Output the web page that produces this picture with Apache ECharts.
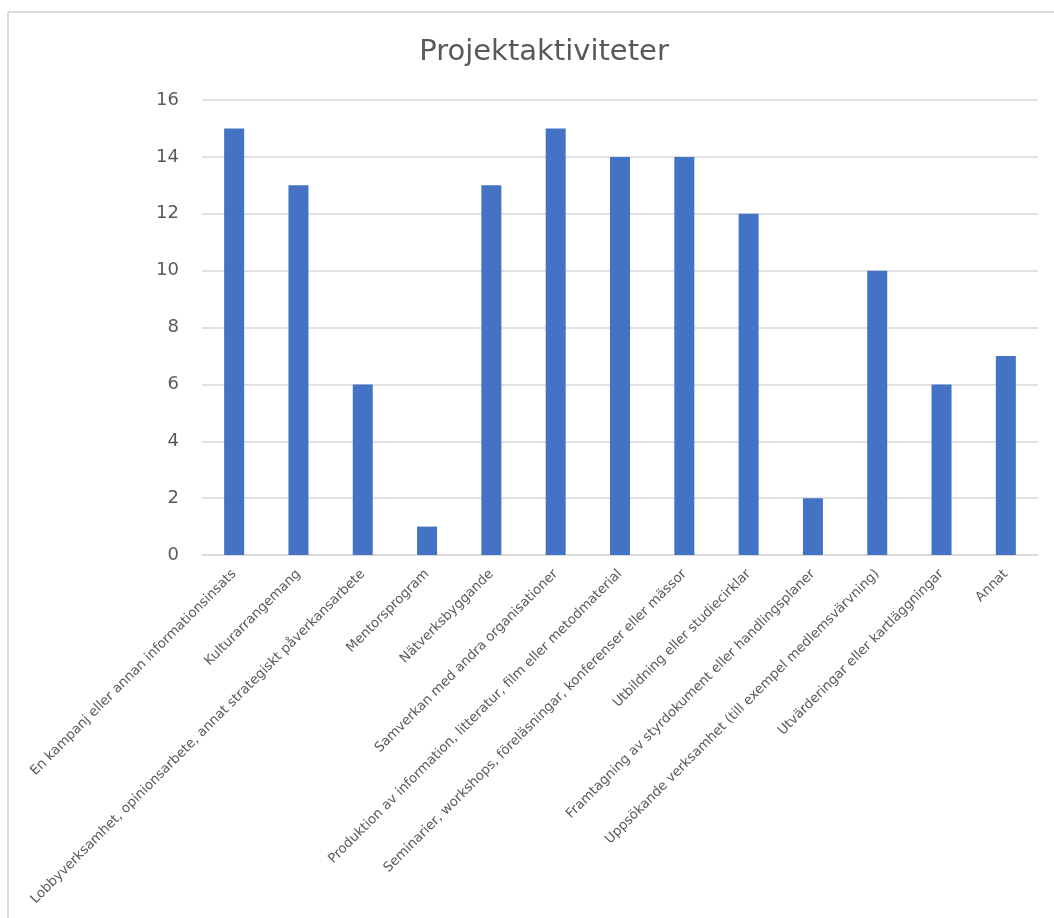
<!DOCTYPE html>
<html>
<head>
<meta charset="utf-8">
<script src="https://cdn.jsdelivr.net/npm/echarts@6/dist/echarts.min.js"></script>
<style>
html,body{margin:0;padding:0;background:#fff;}
#chart{width:1054px;height:918px;}
</style>
</head>
<body>
<div id="chart"></div>
<script>
const titleText = "Projektaktiviteter";
const categories = [
  "En kampanj eller annan informationsinsats",
  "Kulturarrangemang",
  "Lobbyverksamhet, opinionsarbete, annat strategiskt påverkansarbete",
  "Mentorsprogram",
  "Nätverksbyggande",
  "Samverkan med andra organisationer",
  "Produktion av information, litteratur, film eller metodmaterial",
  "Seminarier, workshops, föreläsningar, konferenser eller mässor",
  "Utbildning eller studiecirklar",
  "Framtagning av styrdokument eller handlingsplaner",
  "Uppsökande verksamhet (till exempel medlemsvärvning)",
  "Utvärderingar eller kartläggningar",
  "Annat"
];
const values = [15, 13, 6, 1, 13, 15, 14, 14, 12, 2, 10, 6, 7];
const yTicks = [0, 2, 4, 6, 8, 10, 12, 14, 16];

const chart = echarts.init(document.getElementById('chart'));
chart.setOption({
  animation: false,
  backgroundColor: '#ffffff',
  title: {
    text: titleText,
    left: 539,
    textAlign: 'center',
    top: 33,
    textStyle: { fontFamily: 'DejaVu Sans', fontSize: 29, fontWeight: 'normal', color: '#595959' }
  },
  graphic: [
    { type: 'line', shape: { x1: 8, y1: 12, x2: 1054, y2: 12 }, style: { stroke: '#d9d9d9', lineWidth: 2 } },
    { type: 'line', shape: { x1: 8, y1: 12, x2: 8, y2: 918 }, style: { stroke: '#d9d9d9', lineWidth: 2 } }
  ],
  grid: { left: 202, right: 16, top: 100, bottom: 363, containLabel: false },
  xAxis: {
    type: 'category',
    data: categories,
    axisLine: { show: true, lineStyle: { color: '#d9d9d9', width: 1.5 } },
    axisTick: { show: false },
    axisLabel: {
      interval: 0,
      rotate: 45,
      margin: 17,
      fontFamily: 'DejaVu Sans',
      fontSize: 13.3,
      color: '#595959'
    }
  },
  yAxis: {
    type: 'value',
    min: yTicks[0],
    max: yTicks[yTicks.length - 1],
    interval: 2,
    axisLine: { show: false },
    axisTick: { show: false },
    splitLine: { lineStyle: { color: '#d9d9d9', width: 1.5 } },
    axisLabel: {
      margin: 23,
      fontFamily: 'DejaVu Sans',
      fontSize: 18,
      color: '#595959'
    }
  },
  series: [{
    type: 'bar',
    data: values,
    barWidth: 20,
    itemStyle: { color: '#4472c4' }
  }]
});
</script>
</body>
</html>
